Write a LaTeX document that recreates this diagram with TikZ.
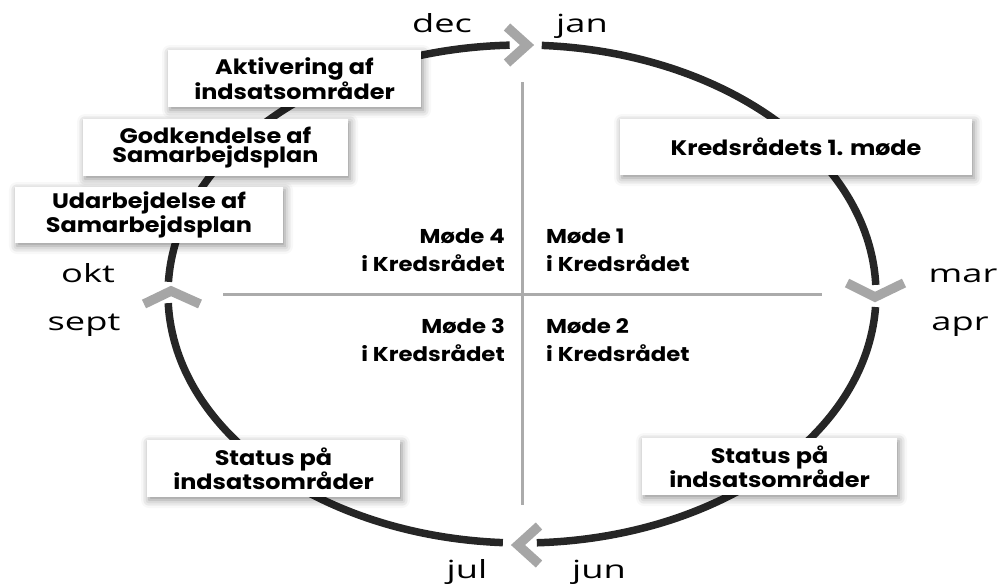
\documentclass[tikz,border=0pt]{standalone}
\usepackage{fontspec}
\usetikzlibrary{shadows.blur}
\newfontfamily\boxfont{Poppins}[FakeStretch=1.14]
\newfontfamily\monthfont{Open Sans}[FakeStretch=1.45]
\definecolor{ringgray}{HTML}{262626}
\definecolor{chevgray}{HTML}{A6A6A6}
\definecolor{axisgray}{HTML}{ABABAB}

\begin{document}
\begin{tikzpicture}[x=1pt,y=-1pt]
\tikzset{ring/.style={draw=ringgray,line width=7.5pt},
  chevron/.style={draw=chevgray,line width=9.5pt,line join=miter},
  axis/.style={draw=axisgray,line width=3pt},
  task/.style={fill=white,align=center,inner sep=0pt,minimum height=57pt,
    font=\boxfont\bfseries\fontsize{21}{19}\selectfont,
    blur shadow={shadow xshift=2pt,shadow yshift=-3pt,shadow blur radius=8pt,shadow opacity=45}},
  meeting/.style={inner sep=0pt,font=\boxfont\bfseries\fontsize{20}{28}\selectfont},
  month/.style={anchor=base,inner sep=0pt,font=\monthfont\fontsize{25}{30}\selectfont}}
\useasboundingbox (0,0) rectangle (1008,587);
\coordinate (mid) at (522,294);
% year ring
\foreach \a/\b in {273.2/357.9,3/87.6,93.1/177.9,182.8/268}
  \draw[ring] (mid) ++(\a:354 and 249) arc[start angle=\a,end angle=\b,x radius=354,y radius=249];
% quarters
\coordinate (qtop) at (522,82);
\coordinate (qbot) at (522,505);
\coordinate (qwest) at (223,294);
\coordinate (qeast) at (822,294);
\draw[axis] (qtop) -- (qbot);
\draw[axis] (qwest) -- (qeast);
% chevrons
\draw[chevron] (507,27) -- (527,45) -- (507,63);
\draw[chevron] (847,283) -- (875,297) -- (904,283);
\draw[chevron] (144,304) -- (171,291) -- (200,304);
\draw[chevron] (539,526) -- (518,545) -- (539,564);
% months
\node[month] (dec) at (442,32) {dec};
\node[month] (jan) at (582,32) {jan};
\node[month] (okt) at (88,282) {okt};
\node[month] (sept) at (84,330) {sept};
\node[month] (mar) at (963,282) {mar};
\node[month] (apr) at (960,330) {apr};
\node[month] (jul) at (467,578) {jul};
\node[month] (jun) at (599,578) {jun};
% meetings
\node[meeting,anchor=east,align=right] (m4) at (505,250) {Møde 4\\i Kredsrådet};
\node[meeting,anchor=west,align=left] (m1) at (546,250) {Møde 1\\i Kredsrådet};
\node[meeting,anchor=east,align=right] (m3) at (505,340) {Møde 3\\i Kredsrådet};
\node[meeting,anchor=west,align=left] (m2) at (546,340) {Møde 2\\i Kredsrådet};
% tasks
\node[task,minimum width=253pt] (aktiv) at (294.5,78.5) {Aktivering af\\indsatsområder};
\node[task,minimum width=265pt] (godk) at (215.5,147.5) {Godkendelse af\\Samarbejdsplan};
\node[task,minimum width=268pt,minimum height=56pt] (udarb) at (149,215) {Udarbejdelse af\\Samarbejdsplan};
\node[task,minimum width=352pt,minimum height=56pt] (kreds) at (796,147) {Kredsrådets 1. møde};
\node[task,minimum width=253pt] (statusl) at (273.5,468.5) {Status på\\indsatsområder};
\node[task,minimum width=255pt] (statusr) at (769.5,466.5) {Status på\\indsatsområder};
\end{tikzpicture}
\end{document}
